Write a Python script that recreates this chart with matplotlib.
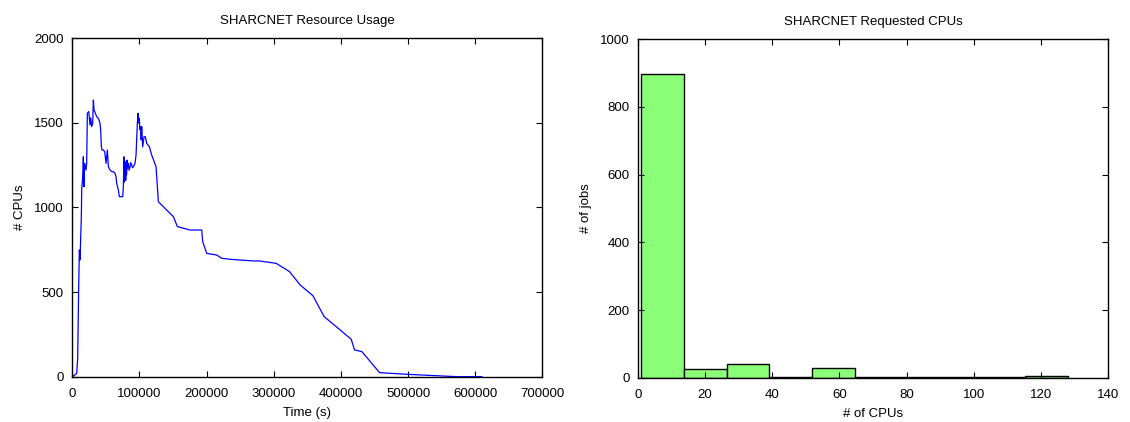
import matplotlib
matplotlib.use("Agg")
import matplotlib.pyplot as plt
import numpy as np

plt.rcParams['font.family'] = ['Liberation Sans', 'DejaVu Sans']

# Left panel: CPU usage over time
time_s = [550, 6500, 8000, 9000, 9500, 10500, 11500, 12500, 13450, 13950, 15440, 16430,
          17400, 18400, 20400, 21400, 22400, 24400, 26360, 27360, 28850, 30340, 31330,
          32320, 34300, 36300, 38770, 40260, 41260, 42250, 43240, 44230, 46220, 48200,
          50200, 52170, 53660, 56150, 58630, 61110, 63600, 65090, 66080, 68560, 70050,
          72040, 75020, 76000, 77000, 77500, 78000, 78490, 79000, 79500, 79980, 80470,
          80970, 81500, 82000, 83450, 84500, 85940, 87000, 88420, 89500, 90900,
          93390, 94880, 96860, 97860, 98500, 99830, 100500, 101830, 102500, 103320,
          104800, 106790, 108770,
          110760, 114730, 118210, 124660, 128140, 140550, 150480, 156430, 175300,
          192680, 194170, 200130, 215020, 222470, 234880, 269630, 278560, 303500,
          323400, 339300, 358200, 375000, 398900, 415300, 420300, 431200, 457500,
          498200, 572800, 610000]
cpus = [0, 20, 109, 400, 532, 749, 690, 827, 946, 1103, 1182, 1300,
        1123, 1261, 1222, 1261, 1557, 1567, 1488, 1530, 1478, 1498, 1635,
        1576, 1557, 1537, 1527, 1510, 1498, 1458, 1359, 1340, 1340, 1330,
        1261, 1340, 1241, 1222, 1212, 1212, 1202, 1182, 1143, 1103, 1064,
        1064, 1064, 1123, 1300, 1150, 1250, 1182, 1270, 1160, 1261, 1190,
        1202, 1280, 1230, 1261, 1220, 1241, 1265, 1251, 1235, 1241,
        1261, 1310, 1498, 1557, 1500, 1527, 1460, 1478, 1400, 1478,
        1359, 1418, 1418,
        1379, 1359, 1310, 1241, 1034, 985, 946, 887, 867,
        867, 798, 729, 719, 700, 694, 684, 684, 670,
        621, 542, 479, 355, 276, 221, 158, 148, 24,
        14, 0, 0]

# Right panel: histogram of requested CPUs
bin_edges = [1.0, 13.7, 26.4, 39.1, 51.8, 64.5, 77.2, 89.9, 102.6, 115.3, 128.0]
job_counts = [897, 25, 40, 2, 28, 1, 2, 2, 1, 5]

fig = plt.figure(figsize=(11.3, 4.22), dpi=100)
ax1 = fig.add_axes([0.064, 0.1074, 0.416, 0.8018])
ax2 = fig.add_axes([0.5646, 0.105, 0.416, 0.802])

fs = 9.5

ax1.plot(time_s, cpus, color='#0000ff', linewidth=0.9)
ax1.set_xlim(0, 700000)
ax1.set_ylim(0, 2000)
ax1.set_xticks(np.arange(0, 700001, 100000))
ax1.set_yticks(np.arange(0, 2001, 500))
ax1.set_title('SHARCNET Resource Usage', fontsize=fs, pad=10)
ax1.set_xlabel('Time (s)', fontsize=fs, labelpad=5)
ax1.set_ylabel('# CPUs', fontsize=fs, labelpad=6)

edges = np.array(bin_edges)
ax2.bar(edges[:-1], job_counts, width=np.diff(edges), align='edge',
        color='#8cff78', edgecolor='black', linewidth=1.0)
ax2.set_xlim(0, 140)
ax2.set_ylim(0, 1000)
ax2.set_xticks(np.arange(0, 141, 20))
ax2.set_yticks(np.arange(0, 1001, 200))
ax2.set_title('SHARCNET Requested CPUs', fontsize=fs, pad=10)
ax2.set_xlabel('# of CPUs', fontsize=fs, labelpad=5)
ax2.set_ylabel('# of jobs', fontsize=fs, labelpad=6)

for ax in (ax1, ax2):
    ax.tick_params(direction='in', top=True, right=True, length=4, width=0.8,
                   labelsize=fs)
    ax.tick_params(axis='x', pad=8)
    ax.tick_params(axis='y', pad=6)
    for s in ax.spines.values():
        s.set_linewidth(1.0)

fig.savefig('out.png', dpi=100)
